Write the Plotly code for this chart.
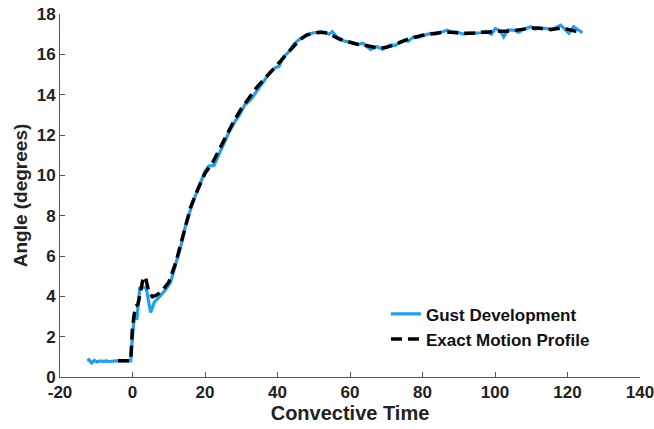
import plotly.graph_objects as go

gust_t = [-12.5, -12, -11.3, -10.5, -9.7, -9, -8, -7.2, -6.5, -5.5, -4.5, -3.5, -1, -0.5, 0, 0.5, 1.2, 2, 3, 3.8, 5, 6, 7.5, 9, 10.5, 11.5, 12.5, 13.5, 14.5, 15.5, 16.5, 17.8, 19, 20, 21, 22.5, 24, 25.2, 26.5, 28, 29.5, 31, 32.6, 34, 35.8, 37, 38.1, 39.5, 40.4, 41.7, 43, 44.5, 46, 47.3, 48.5, 50, 51.9, 53, 54.2, 55.1, 56.9, 58.5, 60.1, 61.5, 62.4, 63.5, 64.7, 65.7, 67, 67.5, 68.9, 70, 71.2, 72.5, 73.9, 75, 76, 77.6, 79, 80.5, 82.2, 83.5, 85, 86.8, 88, 89.5, 91.4, 93, 94.5, 96, 97.5, 99, 100.1, 101.5, 102.4, 103.5, 105.2, 106.5, 108, 109.8, 111, 112.5, 114.4, 115.5, 116.5, 118.1, 119, 120.4, 121.7, 123, 124.1]
gust_angle = [0.8, 0.85, 0.7, 0.82, 0.75, 0.8, 0.78, 0.8, 0.77, 0.8, 0.8, 0.8, 0.8, 0.8, 2.0, 3.0, 2.85, 4.4, 4.45, 4.4, 3.2, 3.7, 4.0, 4.3, 4.7, 5.3, 6.0, 6.6, 7.4, 8.0, 8.6, 9.2, 9.7, 10.2, 10.45, 10.5, 11.1, 11.6, 12.1, 12.6, 13.0, 13.5, 13.75, 14.1, 14.56, 14.9, 15.14, 15.35, 15.4, 15.88, 16.1, 16.5, 16.75, 16.87, 17.0, 17.07, 17.12, 17.08, 17.0, 17.12, 16.74, 16.66, 16.58, 16.55, 16.5, 16.55, 16.38, 16.25, 16.35, 16.38, 16.25, 16.35, 16.46, 16.45, 16.62, 16.7, 16.65, 16.87, 16.85, 16.95, 17.04, 17.0, 17.1, 17.2, 17.1, 17.1, 17.0, 17.05, 17.05, 17.07, 17.15, 17.0, 17.28, 17.15, 16.87, 17.2, 17.2, 17.1, 17.25, 17.37, 17.25, 17.3, 17.28, 17.2, 17.3, 17.45, 17.3, 17.04, 17.37, 17.2, 17.07]

exact_t = [-4, -1, -0.5, 0, 0.8, 1.5, 2, 3, 3.6, 4.5, 5.5, 7, 8.5, 10, 12, 14, 16, 18, 20, 22, 24, 26, 28, 30, 32, 34, 36, 38, 40, 42, 44, 46, 48, 50, 52, 54, 56, 58, 60, 62, 64, 66, 68, 70, 72, 74, 76, 78, 80, 82, 84, 86, 88, 90, 92, 94, 96, 98, 100, 102, 104, 106, 108, 110, 112, 114, 116, 118, 120, 122, 124]
exact_angle = [0.8, 0.8, 0.8, 2.5, 3.5, 3.6, 4.0, 4.95, 4.95, 4.2, 3.98, 4.1, 4.35, 4.7, 5.7, 7.0, 8.4, 9.3, 10.1, 10.6, 11.3, 12.0, 12.7, 13.3, 13.8, 14.3, 14.7, 15.1, 15.5, 15.9, 16.3, 16.7, 16.95, 17.05, 17.1, 17.05, 16.85, 16.7, 16.6, 16.5, 16.45, 16.38, 16.3, 16.35, 16.45, 16.6, 16.75, 16.85, 16.95, 17.0, 17.05, 17.1, 17.1, 17.05, 17.05, 17.05, 17.1, 17.1, 17.15, 17.15, 17.15, 17.2, 17.25, 17.3, 17.3, 17.25, 17.25, 17.3, 17.25, 17.15, 17.1]

x_ticks = [-20, 0, 20, 40, 60, 80, 100, 120, 140]
y_ticks = [0, 2, 4, 6, 8, 10, 12, 14, 16, 18]

font_family = "Liberation Sans"

fig = go.Figure()
fig.add_trace(go.Scatter(x=gust_t, y=gust_angle, mode="lines", name="<b>Gust Development</b>",
                         line=dict(color="#1FA0F2", width=3.2)))
fig.add_trace(go.Scatter(x=exact_t, y=exact_angle, mode="lines", name="<b>Exact Motion Profile</b>",
                         line=dict(color="black", width=3.5, dash="11px,6px")))

axis_common = dict(showline=True, linecolor="#555555", linewidth=1, ticks="inside", ticklen=5,
                   tickcolor="#555555", showgrid=False, zeroline=False, mirror=False, automargin=False,
                   ticklabeloverflow="allow",
                   tickfont=dict(family=font_family, size=17, color="#222222"))

fig.update_layout(
    width=654, height=429,
    margin=dict(l=60, r=14, t=14, b=52),
    plot_bgcolor="white", paper_bgcolor="white",
    font=dict(family=font_family, color="#222222"),
    showlegend=True,
    legend=dict(x=0.562, y=0.222, xanchor="left", yanchor="top", bgcolor="rgba(0,0,0,0)",
                font=dict(family=font_family, size=17, color="#111111"), tracegroupgap=0,
                itemwidth=30),
    xaxis=dict(range=[-20, 140], tickvals=x_ticks, ticktext=[f"<b>{v}</b>" for v in x_ticks],
               ticklabelstandoff=0,
               title=dict(text="<b>Convective Time</b>", font=dict(size=20, family=font_family), standoff=2),
               **axis_common),
    yaxis=dict(range=[0, 18], tickvals=y_ticks, ticktext=[f"<b>{v}</b>" for v in y_ticks],
               ticklabelstandoff=0,
               title=dict(text="<b>Angle (degrees)</b>", font=dict(size=19, family=font_family), standoff=4),
               **axis_common),
)

fig.write_html("out.html")
